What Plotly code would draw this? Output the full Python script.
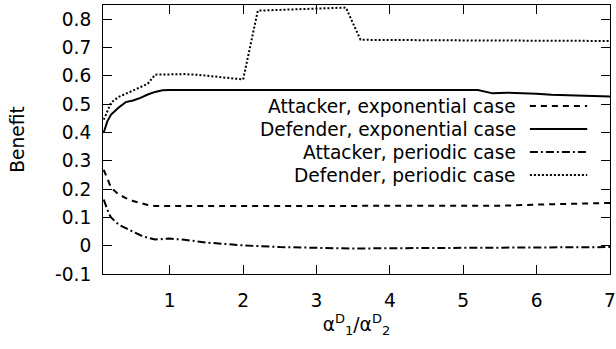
import plotly.graph_objects as go

# ---- data ----
att_exp_x = [0.1, 0.2, 0.3, 0.4, 0.5, 0.6, 0.7, 0.8, 1.0, 2.0, 3.0, 4.0, 5.0, 5.5, 6.0, 6.5, 7.0]
att_exp_y = [0.268, 0.205, 0.182, 0.168, 0.158, 0.150, 0.144, 0.140, 0.140, 0.140, 0.140, 0.140, 0.140, 0.141, 0.145, 0.148, 0.151]

def_exp_x = [0.1, 0.15, 0.2, 0.3, 0.4, 0.5, 0.6, 0.7, 0.8, 0.9, 1.0, 2.0, 3.0, 4.0, 5.0, 5.2, 5.4, 5.6, 6.0, 6.2, 7.0]
def_exp_y = [0.400, 0.440, 0.463, 0.487, 0.507, 0.513, 0.522, 0.534, 0.543, 0.549, 0.550, 0.550, 0.550, 0.550, 0.550, 0.550, 0.538, 0.540, 0.537, 0.533, 0.527]

att_per_x = [0.1, 0.17, 0.2, 0.3, 0.4, 0.5, 0.6, 0.7, 0.8, 1.0, 1.2, 1.5, 2.0, 2.5, 3.0, 3.5, 4.0, 5.0, 6.0, 7.0]
att_per_y = [0.163, 0.113, 0.100, 0.075, 0.062, 0.050, 0.037, 0.028, 0.022, 0.025, 0.021, 0.011, 0.001, -0.005, -0.008, -0.010, -0.009, -0.008, -0.007, -0.005]

def_per_x = [0.1, 0.2, 0.3, 0.4, 0.5, 0.6, 0.7, 0.8, 1.0, 1.2, 1.4, 1.6, 1.8, 2.0, 2.2, 2.6, 3.0, 3.4, 3.6, 4.0, 5.0, 6.0, 7.0]
def_per_y = [0.445, 0.505, 0.525, 0.538, 0.548, 0.560, 0.572, 0.604, 0.604, 0.606, 0.603, 0.598, 0.593, 0.587, 0.830, 0.834, 0.838, 0.841, 0.727, 0.726, 0.725, 0.724, 0.723]

series_names = ["Attacker, exponential case", "Defender, exponential case",
                "Attacker, periodic case", "Defender, periodic case"]

x_tickvals = [1, 2, 3, 4, 5, 6, 7]
x_ticktext = ["1", "2", "3", "4", "5", "6", "7"]
y_tickvals = [-0.1, 0, 0.1, 0.2, 0.3, 0.4, 0.5, 0.6, 0.7, 0.8]
y_ticktext = ["-0.1", "0", "0.1", "0.2", "0.3", "0.4", "0.5", "0.6", "0.7", "0.8"]

# ---- styles ----
FONT = "DejaVu Sans"
FS = 18.6
dashes = ["6px,5px", "solid", "8px,3px,2px,3px", "2px,2px"]
xs = [att_exp_x, def_exp_x, att_per_x, def_per_x]
ys = [att_exp_y, def_exp_y, att_per_y, def_per_y]

fig = go.Figure()
for name, x, y, d in zip(series_names, xs, ys, dashes):
    fig.add_trace(go.Scatter(x=x, y=y, mode="lines", name=name,
                             line=dict(color="black", width=2, dash=d),
                             showlegend=False, cliponaxis=False))

# manual gnuplot-style key: text right-aligned, sample to its right
key_y = [0.6245, 0.539, 0.4535, 0.368]
for name, d, ky in zip(series_names, dashes, key_y):
    fig.add_annotation(xref="paper", yref="paper", x=0.818, y=ky,
                       text=name, showarrow=False, xanchor="right", yanchor="middle",
                       font=dict(family=FONT, size=FS, color="black"))
    fig.add_shape(type="line", xref="paper", yref="paper",
                  x0=0.842, x1=0.955, y0=ky, y1=ky,
                  line=dict(color="black", width=2, dash=d))

axis_common = dict(showline=True, linecolor="black", linewidth=1, mirror="allticks",
                   ticks="inside", ticklen=9, tickwidth=1, tickcolor="black",
                   showgrid=False, zeroline=False, automargin=False,
                   tickfont=dict(family=FONT, size=FS, color="black"))

fig.update_xaxes(range=[0.09, 7], tickvals=x_tickvals, ticktext=x_ticktext,
                 title=dict(text="α<sup>D</sup><sub>1</sub>/α<sup>D</sup><sub>2</sub>",
                            font=dict(family=FONT, size=FS, color="black"), standoff=6),
                 ticklabelstandoff=10, **axis_common)
fig.update_yaxes(range=[-0.1, 0.85], tickvals=y_tickvals, ticktext=y_ticktext,
                 title=dict(text="Benefit", font=dict(family=FONT, size=FS, color="black"),
                            standoff=25),
                 ticklabelstandoff=7, **axis_common)

fig.update_layout(width=616, height=349, margin=dict(l=103, r=6, t=5, b=75),
                  paper_bgcolor="white", plot_bgcolor="white",
                  font=dict(family=FONT, size=FS, color="black"))

fig.write_html("out.html", config={"displayModeBar": False},
               post_script="document.body.style.margin='0';document.body.style.overflow='hidden';")
